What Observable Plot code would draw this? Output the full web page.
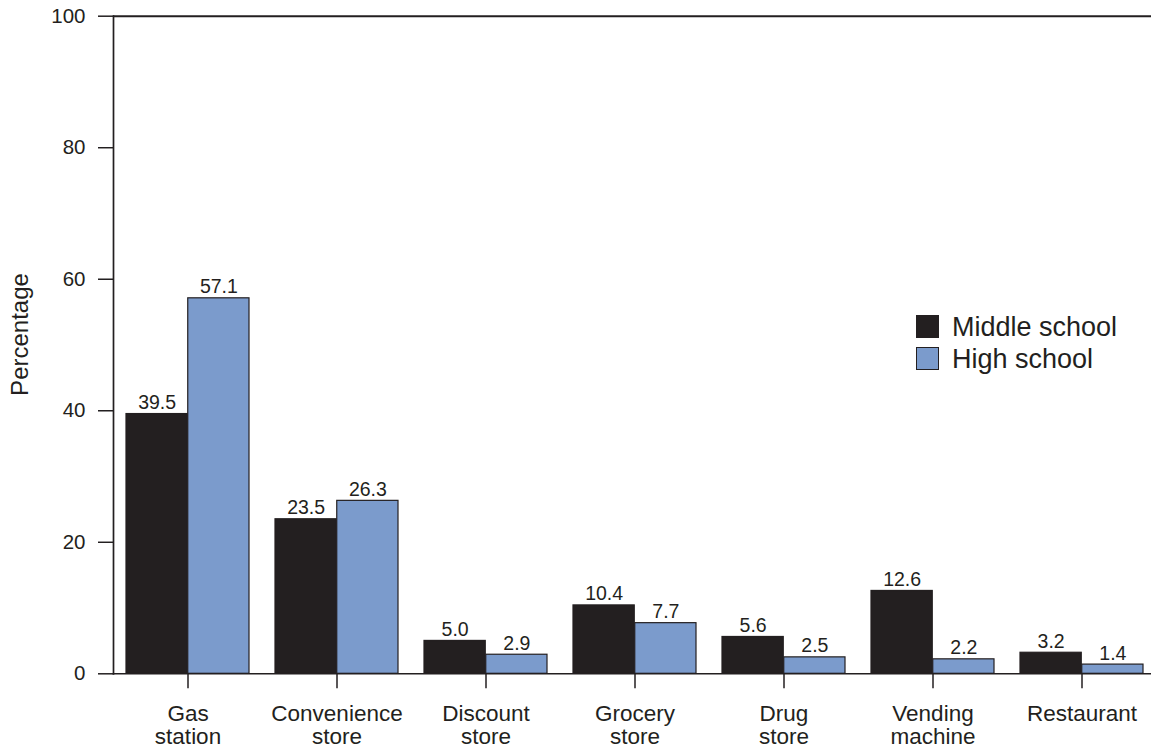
<!DOCTYPE html>
<html>
<head>
<meta charset="utf-8">
<script src="https://cdn.jsdelivr.net/npm/d3@7"></script>
<script src="https://cdn.jsdelivr.net/npm/@observablehq/plot@0.6"></script>
<style>
  body { margin: 0; background: #fff; }
  #chart { position: relative; width: 1151px; height: 748px; font-family: "Liberation Sans", Arial, sans-serif; color: #231f20; }
  #chart svg { position: absolute; left: 0; top: 0; }
  .legend { position: absolute; left: 916px; top: 315px; }
  .legend .row { display: flex; align-items: center; height: 23px; margin-bottom: 9px; }
  .legend .swatch { width: 23px; height: 23px; box-sizing: border-box; border: 1.5px solid #231f20; }
  .legend .name { margin-left: 13px; font-size: 27px; line-height: 23px; padding-top: 2px; white-space: nowrap; }
</style>
</head>
<body>
<div id="chart"></div>
<script>
// Where students bought their cigarettes, by school level (percent)
const categories = [
  "Gas\nstation", "Convenience\nstore", "Discount\nstore", "Grocery\nstore",
  "Drug\nstore", "Vending\nmachine", "Restaurant"
];
const seriesNames = ["Middle school", "High school"];
const middleSchool = [39.5, 23.5, 5.0, 10.4, 5.6, 12.6, 3.2];
const highSchool = [57.1, 26.3, 2.9, 7.7, 2.5, 2.2, 1.4];
const yTicks = [0, 20, 40, 60, 80, 100];
const yLabel = "Percentage";
const seriesColors = ["#231f20", "#7b9bcc"];

const ink = "#231f20";

const rows = [];
categories.forEach((c, i) => {
  rows.push({category: c, series: seriesNames[0], value: middleSchool[i]});
  rows.push({category: c, series: seriesNames[1], value: highSchool[i]});
});
const msRows = rows.filter(d => d.series === seriesNames[0]);
const hsRows = rows.filter(d => d.series === seriesNames[1]);

// band geometry: each category band holds two side-by-side bars
const xRange = [112.5, 1156.5];
const padInner = 0.172, padOuter = 0.086;
const step = (xRange[1] - xRange[0]) / (categories.length - padInner + 2 * padOuter);
const half = step * (1 - padInner) / 2;

const chart = Plot.plot({
  width: 1151,
  height: 748,
  marginLeft: 113,
  marginRight: 0,
  marginTop: 15.7,
  marginBottom: 74.7,
  style: {fontFamily: "'Liberation Sans', Arial, sans-serif", color: ink, background: "#fff"},
  x: {domain: categories, range: xRange, paddingInner: padInner, paddingOuter: padOuter},
  y: {domain: [0, 100]},
  color: {domain: seriesNames, range: seriesColors},
  marks: [
    Plot.barY(msRows, {x: "category", y: "value", fill: "series", stroke: ink, strokeWidth: 1.2, insetRight: half}),
    Plot.barY(hsRows, {x: "category", y: "value", fill: "series", stroke: ink, strokeWidth: 1.2, insetLeft: half}),
    Plot.text(msRows, {x: "category", y: "value", text: d => d.value.toFixed(1), dx: -half / 2, dy: -5, lineAnchor: "bottom", fontSize: 19.5, fill: ink}),
    Plot.text(hsRows, {x: "category", y: "value", text: d => d.value.toFixed(1), dx: half / 2, dy: -5, lineAnchor: "bottom", fontSize: 19.5, fill: ink}),
    Plot.frame({anchor: "left", stroke: ink, strokeWidth: 1.7}),
    Plot.frame({anchor: "bottom", stroke: ink, strokeWidth: 1.5}),
    Plot.ruleY([100], {stroke: ink, strokeWidth: 2}),
    Plot.axisY({ticks: yTicks, tickSize: 15, tickPadding: 13, fontSize: 20.5, label: null, strokeWidth: 1.5, tickFormat: d => String(d)}),
    Plot.axisX({tickSize: 15, tickPadding: 15, fontSize: 22.5, lineHeight: 1.05, label: null, strokeWidth: 1.5}),
    Plot.text([yLabel], {text: d => d, frameAnchor: "left", textAnchor: "middle", dx: -92.7, dy: -10.5, rotate: -90, fontSize: 24, fill: ink})
  ]
});

const root = document.getElementById("chart");
root.appendChild(chart);

const legend = document.createElement("div");
legend.className = "legend";
seriesNames.forEach((name, i) => {
  const row = document.createElement("div");
  row.className = "row";
  const sw = document.createElement("div");
  sw.className = "swatch";
  sw.style.background = seriesColors[i];
  const label = document.createElement("span");
  label.className = "name";
  label.textContent = name;
  row.appendChild(sw);
  row.appendChild(label);
  legend.appendChild(row);
});
root.appendChild(legend);
</script>
</body>
</html>
